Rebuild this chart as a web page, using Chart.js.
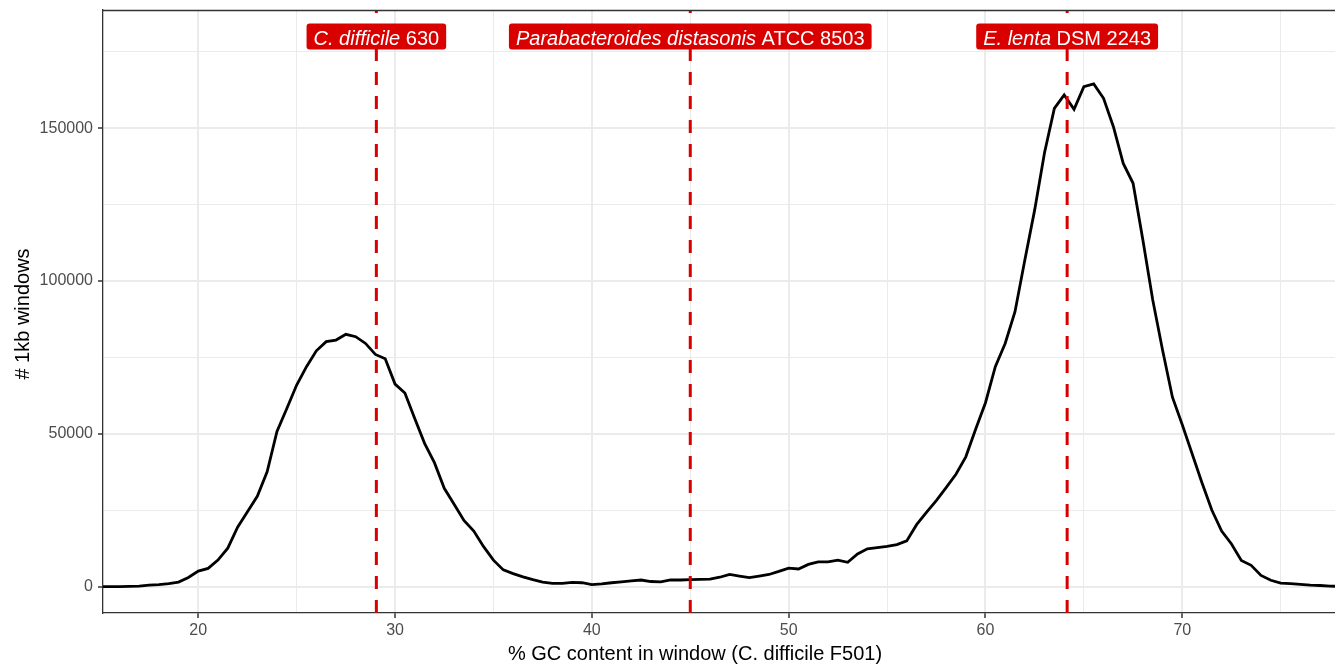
<!DOCTYPE html>
<html>
<head>
<meta charset="utf-8">
<script src="https://cdn.jsdelivr.net/npm/chart.js@4.4.1/dist/chart.umd.min.js"></script>
<style>
  html, body { margin: 0; padding: 0; background: #fff; }
  canvas { display: block; }
</style>
</head>
<body>
<canvas id="gcChart" width="1335" height="668"></canvas>
<script>
// % GC of each 1kb window (bin centres) and the number of windows in that bin
const gcPercent = [
  15, 15.5, 16, 16.5, 17, 17.5, 18, 18.5, 19, 19.5,
  20, 20.5, 21, 21.5, 22, 22.5, 23, 23.5, 24, 24.5,
  25, 25.5, 26, 26.5, 27, 27.5, 28, 28.5, 29, 29.5,
  30, 30.5, 31, 31.5, 32, 32.5, 33, 33.5, 34, 34.5,
  35, 35.5, 36, 36.5, 37, 37.5, 38, 38.5, 39, 39.5,
  40, 40.5, 41, 41.5, 42, 42.5, 43, 43.5, 44, 44.5,
  45, 45.5, 46, 46.5, 47, 47.5, 48, 48.5, 49, 49.5,
  50, 50.5, 51, 51.5, 52, 52.5, 53, 53.5, 54, 54.5,
  55, 55.5, 56, 56.5, 57, 57.5, 58, 58.5, 59, 59.5,
  60, 60.5, 61, 61.5, 62, 62.5, 63, 63.5, 64, 64.5,
  65, 65.5, 66, 66.5, 67, 67.5, 68, 68.5, 69, 69.5,
  70, 70.5, 71, 71.5, 72, 72.5, 73, 73.5, 74, 74.5,
  75, 75.5, 76, 76.5, 77, 77.5, 78
];
const windowCounts = [
  0, 0, 0, 100, 200, 500, 700, 1000, 1500, 3000,
  5100, 6000, 8700, 12600, 19500, 24500, 29600, 37600, 50800, 58300,
  66000, 72000, 77200, 80200, 80700, 82600, 81800, 79600, 76000, 74600,
  66300, 63400, 55000, 46900, 40600, 32200, 27000, 21700, 18200, 13100,
  8700, 5500, 4300, 3200, 2300, 1500, 1100, 1100, 1400, 1300,
  700, 900, 1300, 1600, 1900, 2200, 1700, 1600, 2200, 2200,
  2300, 2400, 2500, 3100, 4000, 3500, 3000, 3500, 4000, 5000,
  6100, 5800, 7300, 8100, 8100, 8700, 8000, 10700, 12400, 12800,
  13200, 13800, 15000, 20300, 24300, 28200, 32400, 36800, 42500, 51500,
  60200, 72000, 79600, 90000, 106900, 123300, 142000, 156500, 160900, 156200,
  163600, 164500, 159800, 150500, 138500, 132000, 113400, 93800, 77400, 62000,
  53000, 43500, 34000, 25100, 18200, 14000, 8600, 7000, 3700, 2100,
  1200, 1000, 800, 500, 400, 200, 100
];

// reference genomes marked with a dashed line
const markerGc = [29.05, 45.0, 64.15];
const markerItalic = ['C. difficile', 'Parabacteroides distasonis', 'E. lenta'];
const markerRest = [' 630', ' ATCC 8503', ' DSM 2243'];
const markerLabelY = 180000;

const xTicks = [20, 25, 30, 35, 40, 45, 50, 55, 60, 65, 70, 75];
const yTicks = [0, 25000, 50000, 75000, 100000, 125000, 150000, 175000];
const xMin = 15.16, xMax = 77.76;
const yMin = -8600, yMax = 188700;

const FONT = '"Liberation Sans", Arial, Helvetica, sans-serif';
const RED = '#d90000';

const curve = gcPercent.map((g, i) => ({x: g, y: windowCounts[i]}));

const vlines = markerGc.map(g => ({
    data: [{x: g, y: yMin}, {x: g, y: yMax}],
    borderColor: RED,
    borderWidth: 3,
    borderDash: [13, 11],
    pointRadius: 0,
    order: 1
}));

const overlay = {
    id: 'overlay',
    afterDatasetsDraw(chart) {
        const {ctx, chartArea, scales} = chart;
        ctx.save();
        // top edge of the panel box
        ctx.strokeStyle = '#333333';
        ctx.lineWidth = 1.3;
        ctx.beginPath();
        ctx.moveTo(chartArea.left, chartArea.top + 0.5);
        ctx.lineTo(chartArea.right, chartArea.top + 0.5);
        ctx.stroke();

        // red labels on top of the dashed lines
        const cy = scales.y.getPixelForValue(markerLabelY);
        markerGc.forEach((g, i) => {
            const cx = scales.x.getPixelForValue(g);
            ctx.font = 'italic 20px ' + FONT;
            const w1 = ctx.measureText(markerItalic[i]).width;
            ctx.font = '20px ' + FONT;
            const w2 = ctx.measureText(markerRest[i]).width;
            const w = w1 + w2 + 14, h = 26;
            ctx.fillStyle = RED;
            ctx.beginPath();
            ctx.roundRect(cx - w / 2, cy - h / 2, w, h, 3);
            ctx.fill();
            ctx.fillStyle = '#ffffff';
            ctx.textAlign = 'left';
            ctx.textBaseline = 'alphabetic';
            ctx.font = 'italic 20px ' + FONT;
            ctx.fillText(markerItalic[i], cx - w / 2 + 7, cy + 8);
            ctx.font = '20px ' + FONT;
            ctx.fillText(markerRest[i], cx - w / 2 + 7 + w1, cy + 8);
        });
        ctx.restore();
    },
    afterDraw(chart) {
        const ctx = chart.ctx;
        ctx.save();
        ctx.fillStyle = '#000000';
        ctx.font = '20px ' + FONT;
        ctx.textAlign = 'center';
        ctx.textBaseline = 'alphabetic';
        ctx.fillText('% GC content in window (C. difficile F501)', 695, 660);
        ctx.translate(29, 314);
        ctx.rotate(-Math.PI / 2);
        ctx.fillText('# 1kb windows', 0, 0);
        ctx.restore();
    }
};

const gridColor = '#ebebeb';

new Chart(document.getElementById('gcChart'), {
    type: 'line',
    data: {
        datasets: [{
            data: curve,
            borderColor: '#000000',
            borderWidth: 2.8,
            pointRadius: 0,
            tension: 0,
            order: 2
        }].concat(vlines)
    },
    options: {
        responsive: false,
        devicePixelRatio: 1,
        animation: false,
        layout: {padding: {top: 10, left: 0, right: 0, bottom: 0}},
        plugins: {
            legend: {display: false},
            tooltip: {enabled: false}
        },
        scales: {
            x: {
                type: 'linear',
                min: xMin,
                max: xMax,
                afterBuildTicks: axis => { axis.ticks = xTicks.map(v => ({value: v})); },
                afterFit: axis => { axis.height = 55; },
                border: {display: true, color: '#333333', width: 1.3},
                grid: {
                    color: gridColor,
                    lineWidth: c => (c.tick && c.tick.value % 10 === 0) ? 2 : 1,
                    tickLength: 5,
                    tickColor: c => (c.tick && c.tick.value % 10 === 0) ? '#333333' : 'rgba(0,0,0,0)',
                    tickWidth: 1.5
                },
                ticks: {
                    autoSkip: false,
                    maxRotation: 0,
                    padding: 3,
                    color: '#4d4d4d',
                    font: {family: FONT, size: 16},
                    callback: v => (v % 10 === 0 ? String(v) : '')
                }
            },
            y: {
                type: 'linear',
                min: yMin,
                max: yMax,
                afterBuildTicks: axis => { axis.ticks = yTicks.map(v => ({value: v})); },
                afterFit: axis => { axis.width = 103; },
                border: {display: true, color: '#333333', width: 1.3},
                grid: {
                    color: gridColor,
                    lineWidth: c => (c.tick && c.tick.value % 50000 === 0) ? 2 : 1,
                    tickLength: 5,
                    tickColor: c => (c.tick && c.tick.value % 50000 === 0) ? '#333333' : 'rgba(0,0,0,0)',
                    tickWidth: 1.5
                },
                ticks: {
                    autoSkip: false,
                    padding: 5,
                    color: '#4d4d4d',
                    // small line height so the top label does not push the panel down
                    font: {family: FONT, size: 16, lineHeight: 0.6},
                    callback: v => (v % 50000 === 0 ? String(v) : '')
                }
            }
        }
    },
    plugins: [overlay]
});
</script>
</body>
</html>
